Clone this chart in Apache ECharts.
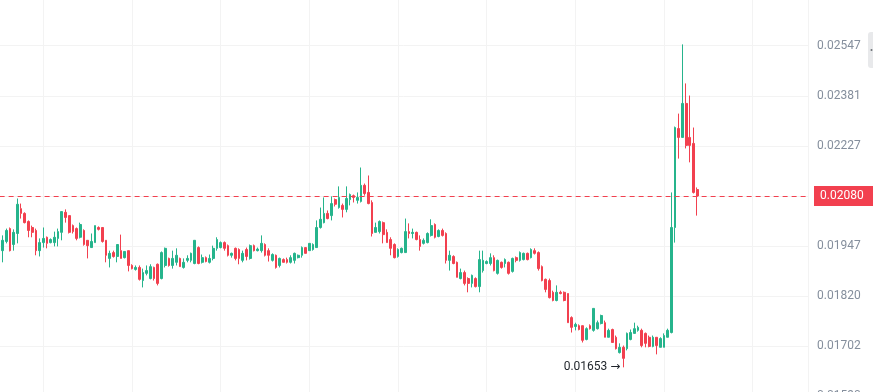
<!DOCTYPE html>
<html><head><meta charset="utf-8">
<script src="https://cdn.jsdelivr.net/npm/echarts@6/dist/echarts.min.js"></script>
<style>html,body{margin:0;padding:0;background:#fff}#chart{width:873px;height:392px}</style>
</head><body><div id="chart"></div>
<script>
const opens = [
0.01994,0.01933,0.01957,0.01991,0.01949,0.01978,0.02045,0.02032,0.02010,0.01994,
0.01986,0.01933,0.01954,0.01968,0.01954,0.01954,0.01965,0.01981,0.02035,0.02026,
0.01999,0.01991,0.01968,0.01986,0.01960,0.01941,0.01954,0.01994,0.01994,0.01960,
0.01913,0.01928,0.01918,0.01933,0.01915,0.01933,0.01895,0.01885,0.01890,0.01857,
0.01875,0.01862,0.01890,0.01898,0.01862,0.01895,0.01913,0.01895,0.01903,0.01913,
0.01890,0.01908,0.01908,0.01900,0.01941,0.01903,0.01915,0.01903,0.01913,0.01939,
0.01941,0.01954,0.01946,0.01921,0.01939,0.01936,0.01908,0.01936,0.01913,0.01946,
0.01933,0.01933,0.01949,0.01933,0.01908,0.01921,0.01895,0.01910,0.01910,0.01903,
0.01908,0.01915,0.01921,0.01941,0.01933,0.01936,0.01941,0.01994,0.02007,0.02032,
0.02026,0.02070,0.02048,0.02054,0.02043,0.02070,0.02081,0.02068,0.02065,0.02110,
0.02090,0.02062,0.01981,0.01983,0.02007,0.01981,0.01962,0.01949,0.01918,0.01928,
0.01928,0.01983,0.01978,0.01981,0.01962,0.01952,0.01954,0.01973,0.02002,0.01970,
0.01986,0.01978,0.01908,0.01918,0.01903,0.01862,0.01877,0.01862,0.01850,0.01862,
0.01842,0.01882,0.01900,0.01900,0.01915,0.01875,0.01903,0.01900,0.01903,0.01880,
0.01915,0.01908,0.01910,0.01926,0.01915,0.01933,0.01928,0.01892,0.01860,0.01857,
0.01828,0.01808,0.01828,0.01828,0.01825,0.01767,0.01746,0.01748,0.01748,0.01716,
0.01748,0.01737,0.01741,0.01753,0.01755,0.01721,0.01739,0.01721,0.01686,0.01698,
0.01695,0.01716,0.01730,0.01737,0.01737,0.01730,0.01721,0.01700,0.01721,0.01698,
0.01698,0.01721,0.01732,0.01994,0.02277,0.02250,0.02355,0.02250,0.02232,0.02098
];
const closes = [
0.01946,0.01960,0.01986,0.01933,0.01981,0.02057,0.02032,0.02007,0.01986,0.01981,
0.01933,0.01954,0.01965,0.01952,0.01962,0.01968,0.01983,0.02037,0.02021,0.01981,
0.01983,0.01965,0.02002,0.01949,0.01946,0.01957,0.01999,0.01989,0.01957,0.01921,
0.01926,0.01918,0.01949,0.01913,0.01931,0.01895,0.01887,0.01890,0.01860,0.01877,
0.01882,0.01892,0.01862,0.01850,0.01928,0.01939,0.01895,0.01913,0.01921,0.01892,
0.01903,0.01913,0.01926,0.01960,0.01900,0.01915,0.01905,0.01913,0.01939,0.01962,
0.01954,0.01939,0.01921,0.01926,0.01913,0.01913,0.01926,0.01918,0.01946,0.01933,
0.01937,0.01952,0.01921,0.01921,0.01923,0.01890,0.01913,0.01903,0.01903,0.01915,
0.01926,0.01921,0.01941,0.01926,0.01952,0.01949,0.01994,0.02016,0.02032,0.02018,
0.02059,0.02057,0.02076,0.02043,0.02073,0.02084,0.02076,0.02076,0.02110,0.02087,
0.02059,0.01978,0.01994,0.02010,0.01975,0.01954,0.01939,0.01915,0.01936,0.01939,
0.01983,0.01978,0.01981,0.01962,0.01944,0.01960,0.01978,0.01999,0.01968,0.01986,
0.01973,0.01908,0.01921,0.01900,0.01865,0.01877,0.01850,0.01850,0.01870,0.01842,
0.01910,0.01908,0.01905,0.01915,0.01882,0.01908,0.01890,0.01910,0.01875,0.01913,
0.01908,0.01928,0.01926,0.01910,0.01936,0.01926,0.01887,0.01857,0.01835,0.01815,
0.01808,0.01828,0.01825,0.01808,0.01755,0.01744,0.01751,0.01739,0.01714,0.01741,
0.01741,0.01789,0.01755,0.01772,0.01721,0.01737,0.01709,0.01695,0.01698,0.01673,
0.01730,0.01732,0.01741,0.01744,0.01702,0.01707,0.01700,0.01721,0.01702,0.01718,
0.01725,0.01737,0.01994,0.02280,0.02250,0.02355,0.02226,0.02226,0.02090,0.02080
];
const lows = [
0.01941,0.01903,0.01952,0.01931,0.01933,0.01952,0.02018,0.02005,0.01968,0.01968,
0.01921,0.01918,0.01941,0.01939,0.01952,0.01944,0.01944,0.01960,0.02007,0.01978,
0.01978,0.01960,0.01965,0.01946,0.01913,0.01941,0.01954,0.01986,0.01954,0.01903,
0.01890,0.01915,0.01903,0.01913,0.01913,0.01880,0.01885,0.01882,0.01857,0.01840,
0.01870,0.01860,0.01857,0.01845,0.01860,0.01890,0.01892,0.01887,0.01895,0.01892,
0.01887,0.01903,0.01903,0.01898,0.01898,0.01900,0.01903,0.01900,0.01908,0.01933,
0.01939,0.01933,0.01918,0.01915,0.01908,0.01898,0.01903,0.01908,0.01910,0.01931,
0.01931,0.01928,0.01918,0.01905,0.01905,0.01887,0.01890,0.01903,0.01900,0.01900,
0.01900,0.01913,0.01915,0.01926,0.01933,0.01933,0.01941,0.01991,0.02005,0.02016,
0.02013,0.02051,0.02045,0.02021,0.02035,0.02054,0.02062,0.02059,0.02062,0.02081,
0.02057,0.01970,0.01981,0.01978,0.01952,0.01954,0.01921,0.01913,0.01915,0.01926,
0.01928,0.01965,0.01965,0.01960,0.01933,0.01949,0.01952,0.01970,0.01965,0.01968,
0.01970,0.01900,0.01882,0.01898,0.01865,0.01860,0.01845,0.01828,0.01840,0.01840,
0.01828,0.01877,0.01898,0.01895,0.01880,0.01872,0.01887,0.01890,0.01872,0.01877,
0.01903,0.01905,0.01908,0.01908,0.01913,0.01923,0.01882,0.01855,0.01828,0.01813,
0.01806,0.01806,0.01823,0.01806,0.01755,0.01732,0.01737,0.01737,0.01709,0.01714,
0.01739,0.01734,0.01739,0.01751,0.01721,0.01721,0.01709,0.01693,0.01684,0.01653,
0.01691,0.01714,0.01730,0.01734,0.01698,0.01698,0.01698,0.01698,0.01682,0.01698,
0.01698,0.01721,0.01730,0.01954,0.02187,0.02250,0.02217,0.02176,0.02087,0.02026
];
const highs = [
0.01999,0.01973,0.01991,0.01994,0.01989,0.02073,0.02059,0.02035,0.02013,0.01999,
0.01991,0.01965,0.01994,0.01970,0.01965,0.01983,0.01991,0.02037,0.02043,0.02026,
0.02002,0.01994,0.02007,0.01989,0.01960,0.01978,0.01999,0.01997,0.01994,0.01960,
0.01933,0.01933,0.01949,0.01975,0.01931,0.01933,0.01898,0.01895,0.01895,0.01887,
0.01895,0.01898,0.01892,0.01900,0.01931,0.01941,0.01915,0.01933,0.01939,0.01915,
0.01913,0.01921,0.01928,0.01960,0.01944,0.01923,0.01918,0.01923,0.01946,0.01968,
0.01957,0.01957,0.01949,0.01928,0.01941,0.01939,0.01933,0.01941,0.01949,0.01949,
0.01941,0.01973,0.01952,0.01939,0.01926,0.01923,0.01915,0.01913,0.01915,0.01921,
0.01928,0.01923,0.01944,0.01941,0.01952,0.01952,0.02013,0.02048,0.02076,0.02040,
0.02079,0.02073,0.02107,0.02059,0.02107,0.02087,0.02084,0.02090,0.02161,0.02115,
0.02138,0.02068,0.02007,0.02013,0.02010,0.01989,0.01968,0.01952,0.01939,0.01941,
0.02018,0.02005,0.01991,0.01983,0.01973,0.01965,0.01981,0.02016,0.02005,0.01989,
0.01991,0.01981,0.01933,0.01921,0.01905,0.01887,0.01882,0.01865,0.01872,0.01865,
0.01933,0.01933,0.01908,0.01926,0.01921,0.01910,0.01905,0.01913,0.01905,0.01915,
0.01918,0.01931,0.01928,0.01928,0.01939,0.01939,0.01931,0.01895,0.01862,0.01862,
0.01832,0.01845,0.01832,0.01830,0.01825,0.01770,0.01755,0.01751,0.01748,0.01744,
0.01751,0.01789,0.01760,0.01774,0.01760,0.01741,0.01741,0.01725,0.01707,0.01702,
0.01732,0.01739,0.01755,0.01748,0.01741,0.01732,0.01725,0.01725,0.01721,0.01721,
0.01730,0.01741,0.02090,0.02283,0.02323,0.02549,0.02419,0.02380,0.02280,0.02104
];
const yTickLabels = ['0.01590','0.01702','0.01820','0.01947','0.02080','0.02227','0.02381','0.02547','0.02721'];
const lastPrice = 0.02080;
const lastPriceLabel = '0.02080';
const lowIndex = 169;
const lowLabel = '0.01653';

// price axis is logarithmic: one tick step = constant price ratio
const BASE = 0.0208, STEP = 0.067189;
const toAxis = p => Math.log(p / BASE) / STEP;
const X_OFFSET = 12;
const UP = '#26b48c', DOWN = '#f2404f';

const data = opens.map((o, i) => [i + X_OFFSET, toAxis(o), toAxis(closes[i]), toAxis(lows[i]), toAxis(highs[i])]);

const chart = echarts.init(document.getElementById('chart'), null, {renderer: 'canvas'});
chart.setOption({
  animation: false,
  backgroundColor: '#ffffff',
  grid: {left: -45.37, right: 65, top: -4.4, bottom: -4.4, containLabel: false, outerBoundsMode: 'none'},
  xAxis: {
    type: 'value', min: 0, max: 230.98, interval: 24,
    axisLine: {show: false}, axisTick: {show: false}, axisLabel: {show: false},
    splitLine: {show: true, lineStyle: {color: '#f3f3f3', width: 1}}
  },
  yAxis: {
    type: 'value', position: 'right', min: -4, max: 4, interval: 1,
    axisLine: {show: false},
    axisTick: {show: true, length: 5, lineStyle: {color: '#f0f0f0'}},
    axisLabel: {margin: 9, color: '#848e9c', fontSize: 12, fontFamily: 'Roboto',
      formatter: v => yTickLabels[Math.round(v) + 4] || ''},
    splitLine: {show: true, lineStyle: {color: '#f3f3f3', width: 1}}
  },
  series: [{
    type: 'candlestick',
    data: data,
    encode: {x: 0, y: [1, 2, 3, 4]},
    barWidth: 2.2,
    itemStyle: {color: UP, color0: DOWN, borderColor: UP, borderColor0: DOWN, borderWidth: 1},
    markLine: {
      silent: true, symbol: ['none', 'none'], animation: false,
      lineStyle: {color: DOWN, type: [5, 4], width: 1, opacity: 1},
      label: {show: true, position: 'end', distance: 6, formatter: lastPriceLabel,
        color: '#ffffff', backgroundColor: DOWN, padding: [4, 10, 4, 6],
        fontSize: 12, fontFamily: 'Roboto', lineHeight: 12},
      data: [{yAxis: toAxis(lastPrice)}]
    },
    markPoint: {
      silent: true, symbol: 'circle', symbolSize: 0, animation: false,
      label: {show: true, position: 'left', distance: 3,
        formatter: lowLabel + ' {a|\u2192}',
        color: '#1e2329', fontSize: 12, fontFamily: 'Roboto',
        rich: {a: {fontFamily: 'DejaVu Sans', fontSize: 12, color: '#1e2329'}}},
      data: [{coord: [lowIndex + X_OFFSET, toAxis(lows[lowIndex])]}]
    }
  }],
  graphic: [
    {type: 'rect', silent: true, shape: {x: 868, y: 32, width: 12, height: 36, r: 3}, style: {fill: '#e8e9eb'}},
    {type: 'circle', silent: true, shape: {cx: 871.5, cy: 50, r: 1}, style: {fill: '#6b6f75'}}
  ]
});
</script>
</body></html>
